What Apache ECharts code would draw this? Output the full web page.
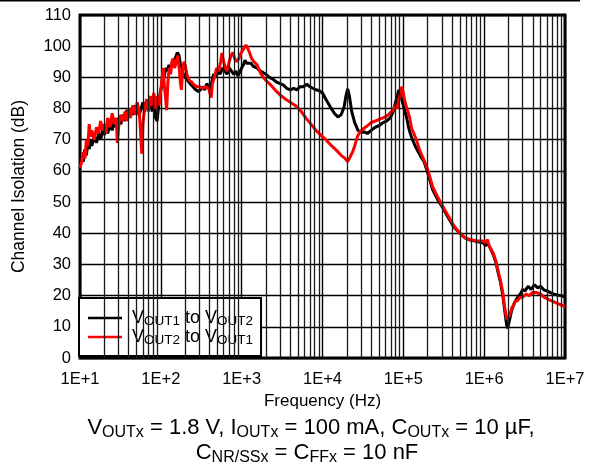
<!DOCTYPE html>
<html>
<head>
<meta charset="utf-8">
<script src="https://cdn.jsdelivr.net/npm/echarts@6/dist/echarts.min.js"></script>
<style>html,body{margin:0;padding:0;background:#fff}#c{width:589px;height:466px}</style>
</head>
<body>
<div id="c"></div>
<script>
// ---- data ----
const seriesNames = ['VOUT1 to VOUT2', 'VOUT2 to VOUT1'];
const xTickLabels = ['1E+1', '1E+2', '1E+3', '1E+4', '1E+5', '1E+6', '1E+7'];
const yTicks = [0, 10, 20, 30, 40, 50, 60, 70, 80, 90, 100, 110];

const freqBlack = [10,10.5,11,11.5,12,12.5,13,13.5,14,15,16,17,18,19,20,21,22,23.5,25,26.5,28,30,32,34,36,38,40,42,45,48,51,54,57,60,63,67,70,74,78,82,86,90,94,98,102,106,110,115,120,126,132,140,150,160,168,175,182,190,200,215,230,250,270,290,310,330,350,370,390,410,430,450,480,510,540,580,620,660,700,750,800,850,900,950,1000,1050,1100,1150,1200,1300,1400,1550,1700,1850,2000,2200,2400,2700,3000,3300,3600,4000,4400,4800,5300,5800,6400,7000,7600,8300,9000,10000,11000,12500,14000,15500,17000,18500,19500,20500,21500,23000,25000,27500,30000,33000,36000,40000,45000,50000,56000,62000,69000,75000,80000,84000,88000,92000,96000,100000,105000,110000,116000,122000,130000,140000,150000,165000,180000,200000,230000,270000,310000,360000,420000,500000,580000,670000,770000,870000,970000,1050000,1100000,1150000,1200000,1300000,1400000,1500000,1600000,1700000,1800000,1900000,1950000,2050000,2200000,2400000,2600000,2800000,3000000,3200000,3500000,3800000,4200000,4600000,5000000,5500000,6000000,6600000,7300000,8000000,9000000,10000000];
const valBlack = [61,64,63,67,65,69,67,70,68,71,69,72,70,73,71.5,74,72,75,73,76,74,77,75,78,76,79.5,77,80,78,81,79,78,80,82,79,83,80,84,79,83,77,76,81,85,87,92,90,93,92,94,93,95,96,98,97,94,93,91,90,89,88,87,86,85.5,86,87,86,88,87,86,89,91,90,92,91,93,92,91,93,92,91,92,90.5,91,93,94,95.5,94.5,94,94.5,93.5,93,92,91.5,91,90,89.5,88.5,88,87.5,86.5,86,86.5,86,87,87,87.8,87,86.5,86,85.8,85,83,80.5,78.5,77.3,78,80.5,84,86.3,84,79,75.5,73,72.3,72.5,72,73,74,74.5,75.5,76,77,79,82,84,86,84.5,84,81,79,77,74,72,70,68,66.5,64.5,63,59.5,54,50.5,48,45,42,40,38.5,37.8,37.5,37.2,37,36,37,36.5,35,33,30.5,27,24,20,15,10.5,9.5,12,15.5,18,19.5,20.5,22,21.5,23,22,23.5,22.5,23,21.8,21.5,21,20.5,20.2,20,19.5];

const freqRed = [10,10.5,11,11.5,12,12.5,13,13.5,14,15,16,17,18,19,20,21,22,23.5,25,26.5,28,29,30.5,32,34,36,38,40,42,45,48,51,54,56,58,60,63,67,70,74,78,82,86,90,95,100,104,107,110,114,118,122,127,132,137,142,148,155,162,170,175,180,186,193,200,210,225,240,260,280,300,330,360,390,410,420,435,460,490,520,550,570,600,630,660,700,740,780,820,870,920,970,1020,1080,1130,1180,1250,1330,1420,1550,1700,1850,2000,2300,2700,3100,3500,4000,4600,5300,6200,7200,8300,9500,11000,13000,15000,17000,19000,20500,22000,23500,25000,27000,29000,32000,36000,40000,45000,50000,56000,62000,68000,75000,80000,84000,88000,92000,96000,100000,104000,108000,114000,120000,127000,135000,145000,160000,180000,200000,230000,270000,310000,360000,420000,500000,580000,670000,770000,870000,970000,1050000,1100000,1150000,1200000,1300000,1400000,1500000,1600000,1700000,1800000,1900000,1950000,2050000,2200000,2400000,2600000,2800000,3000000,3300000,3600000,4000000,4500000,5000000,5500000,6000000,6600000,7300000,8000000,9000000,10000000];
const valRed = [61,63,66,64,70,68,75,71,73,70,74,72,76,73,75,72,77,74,78.5,75,77,69,76,78,76,79,76,80,77,81,78,82,79,73,65.5,75,80,83,79,84,81,85,80,84,81,86,90,93,88,84,79.5,88,93,91,95,96,93,95,97,92,88,86,92,95,94,91,89,88.5,87.5,87,87,86.5,87,86.5,86,83.5,88,90,93,92,95,97.8,95,93,92,95,97,98,96,95,96,97.5,98.5,99.5,100.4,99.5,98,96,95,94,91.5,90,89,87.5,85.5,84,83,82,81,79.5,77,75,73,71.5,70,68,66.5,65,64,63,64.5,66,68,71,72.5,73.5,74.5,75.5,76,76.5,77,77.5,78.5,79.5,81,80,83,85,87,85,82.5,81,79,77,73.5,72,70,66.5,63.5,60.5,55,51.3,48.5,45.5,42.5,40,38.5,38,37.6,37.5,37.5,37,38,36,36,33.5,31,27.5,24.5,21,16,12.5,12,13.5,16,18,18.5,19.5,19.5,20.5,20,21,21,20.5,19.5,19,18.5,18,17.5,17,16.5];

// ---- chart ----
const FONT = 'Liberation Sans, Arial, Helvetica, sans-serif';
function pairs(fs, vs) { return fs.map((f, i) => [f, vs[i]]); }

const minorGrid = [];
for (let d = 10; d < 1e7; d *= 10) {
  for (let k = 2; k <= 9; k++) minorGrid.push({ xAxis: d * k });
}

const legendRich = {
  v: { fontSize: 18, lineHeight: 20, fontFamily: FONT, color: '#000', padding: [0, 0, 0, 5] },
  m: { fontSize: 18, lineHeight: 20, fontFamily: FONT, color: '#000' },
  s: { fontSize: 13.5, lineHeight: 13, fontFamily: FONT, color: '#000', verticalAlign: 'bottom' }
};
const capRich = {
  m: { fontSize: 22, lineHeight: 26, fontFamily: FONT, fill: '#000', color: '#000' },
  s: { fontSize: 16, lineHeight: 20, fontFamily: FONT, fill: '#000', color: '#000', verticalAlign: 'bottom' }
};

function legendFmt(name) {
  const p = name.match(/V(OUT\d) to V(OUT\d)/);
  return '{v|V}{s|' + p[1] + '}{m| to V}{s|' + p[2] + '}';
}

const chart = echarts.init(document.getElementById('c'), null, { renderer: 'canvas' });
chart.setOption({
  animation: false,
  backgroundColor: '#fff',
  grid: { left: 80, right: 24, top: 15, bottom: 108, show: true, borderColor: '#000', borderWidth: 3, backgroundColor: 'transparent' },
  xAxis: {
    type: 'log', logBase: 10, min: 10, max: 1e7,
    name: 'Frequency (Hz)', nameLocation: 'middle', nameGap: 33,
    nameTextStyle: { fontSize: 17, fontFamily: FONT, color: '#000' },
    axisLine: { show: false }, axisTick: { show: false },
    axisLabel: { fontSize: 16.5, fontFamily: FONT, color: '#000', margin: 13,
      formatter: v => xTickLabels[Math.round(Math.log10(v)) - 1] },
    splitLine: { show: true, lineStyle: { color: '#000', width: 1.4 } }
  },
  yAxis: {
    type: 'value', min: yTicks[0], max: yTicks[yTicks.length - 1], interval: 10,
    name: 'Channel Isolation (dB)', nameLocation: 'middle', nameGap: 52, nameRotate: 90,
    nameTextStyle: { fontSize: 17.5, fontFamily: FONT, color: '#000' },
    axisLine: { show: false }, axisTick: { show: false },
    axisLabel: { fontSize: 16.5, fontFamily: FONT, color: '#000', margin: 9 },
    splitLine: { show: true, lineStyle: { color: '#000', width: 1.4 } }
  },
  legend: {
    data: seriesNames, orient: 'vertical', left: 79, top: 298,
    padding: [11, 8, 9, 9], itemGap: 0, itemWidth: 34, itemHeight: 2.5, icon: 'rect',
    backgroundColor: '#fff', borderColor: '#000', borderWidth: 2, borderRadius: 0,
    selectedMode: false, align: 'left',
    formatter: legendFmt,
    textStyle: { rich: legendRich, fontSize: 18, fontFamily: FONT, color: '#000' }
  },
  series: [
    {
      name: 'grid-minor', type: 'line', data: [], z: 1, silent: true,
      markLine: { silent: true, symbol: ['none', 'none'], label: { show: false },
        lineStyle: { type: 'solid', color: '#1a1a1a', width: 1.3 }, emphasis: { disabled: true },
        animation: false, data: minorGrid }
    },
    {
      name: seriesNames[0], type: 'line', data: pairs(freqBlack, valBlack), z: 3,
      showSymbol: false, symbol: 'none', color: '#000',
      lineStyle: { color: '#000', width: 3 }
    },
    {
      name: seriesNames[1], type: 'line', data: pairs(freqRed, valRed), z: 4,
      showSymbol: false, symbol: 'none', color: '#ff0000',
      lineStyle: { color: '#ff0000', width: 3 }
    }
  ],
  graphic: [
    { type: 'rect', shape: { x: 0, y: 0, width: 580, height: 1.5 }, style: { fill: '#000' } },
    { type: 'text', x: 311, y: 428, style: { text: '{m|V}{s|OUTx}{m| = 1.8 V, I}{s|OUTx}{m| = 100 mA, C}{s|OUTx}{m| = 10 µF,}', rich: capRich, align: 'center', verticalAlign: 'middle', fill: '#000' } },
    { type: 'text', x: 307, y: 453, style: { text: '{m|C}{s|NR/SSx}{m| = C}{s|FFx}{m| = 10 nF}', rich: capRich, align: 'center', verticalAlign: 'middle', fill: '#000' } }
  ]
});
</script>
</body>
</html>
